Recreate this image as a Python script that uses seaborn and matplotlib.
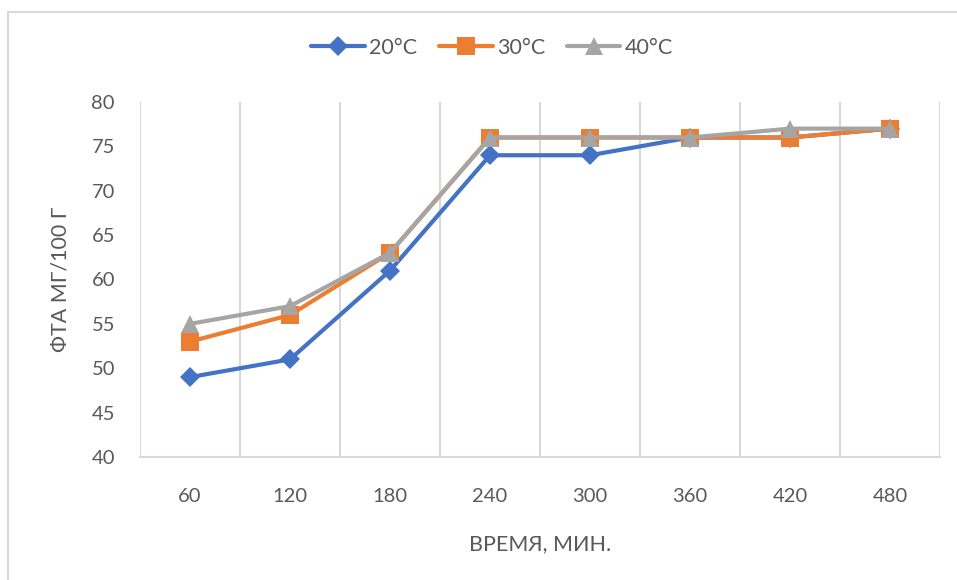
import matplotlib
matplotlib.use("Agg")
import matplotlib.pyplot as plt
from matplotlib.lines import Line2D
import numpy as np
import pandas as pd
import seaborn as sns

# Reaction time (min) and titratable acidity at three temperatures
times = ["60", "120", "180", "240", "300", "360", "420", "480"]
acidity_20 = [49, 51, 61, 74, 74, 76, 76, 77]
acidity_30 = [53, 56, 63, 76, 76, 76, 76, 77]
acidity_40 = [55, 57, 63, 76, 76, 76, 77, 77]
series_names = ["20°C", "30°C", "40°C"]
y_ticks = [40, 45, 50, 55, 60, 65, 70, 75, 80]

colors = ["#4472C4", "#ED7D31", "#A5A5A5"]
markers = ["D", "s", "^"]
msizes = [10.5, 12.5, 12.5]
text_color = "#595959"
grid_color = "#D9D9D9"

sns.set_theme(style="white")
plt.rcParams["font.family"] = ["Lato", "DejaVu Sans"]

df = pd.DataFrame({
    "time": times * 3,
    "value": acidity_20 + acidity_30 + acidity_40,
    "temp": sum([[n] * len(times) for n in series_names], []),
})

fig = plt.figure(figsize=(9.57, 5.80), dpi=100)
ax = fig.add_axes([140 / 957, 1 - 457 / 580, 800 / 957, 355 / 580])

for name, c, m, ms in zip(series_names, colors, markers, msizes):
    sns.lineplot(data=df[df["temp"] == name], x="time", y="value",
                 color=c, marker=m, markersize=ms, markeredgewidth=0,
                 linewidth=3, ax=ax, legend=False, zorder=3)

ax.set_xlim(-0.5, len(times) - 0.5)
ax.set_ylim(40, 80)
ax.set_yticks(y_ticks)
ax.set_yticklabels([str(v) for v in y_ticks])
ax.set_xticks(range(len(times)))
ax.set_xticklabels(times)

# vertical gridlines sit between categories
ax.set_xticks(np.arange(-0.5, len(times) + 0.5, 1.0), minor=True)
ax.grid(False)
ax.grid(which="minor", axis="x", color=grid_color, linewidth=1.5, zorder=0)
for s in ["top", "right", "left"]:
    ax.spines[s].set_visible(False)
ax.spines["bottom"].set_color(grid_color)
ax.spines["bottom"].set_linewidth(1.5)

ax.tick_params(axis="both", which="both", length=0)
ax.tick_params(axis="y", labelsize=14.5, labelcolor=text_color, pad=18)
ax.tick_params(axis="x", labelsize=14.5, labelcolor=text_color, pad=22)

ax.set_xlabel("ВРЕМЯ, МИН.", fontsize=15.5, color=text_color, labelpad=21)
ax.set_ylabel("ФТА МГ/100 Г", fontsize=15.5, color=text_color, labelpad=15)

handles = [Line2D([0], [0], color=c, marker=m, markersize=ms, linewidth=3,
                  markeredgewidth=0)
           for c, m, ms in zip(colors, markers, msizes)]
fig.legend(handles, series_names, loc="center", ncol=3, frameon=False,
           bbox_to_anchor=(492 / 957, 1 - 48 / 580), fontsize=15.5,
           labelcolor=text_color, handlelength=2.5, handletextpad=0.2,
           columnspacing=1.0)

# outer chart frame
fig.add_artist(Line2D([8 / 957, 8 / 957], [0, 1 - 12 / 580],
                      transform=fig.transFigure, color=grid_color, linewidth=1.5))
fig.add_artist(Line2D([8 / 957, 1], [1 - 12 / 580, 1 - 12 / 580],
                      transform=fig.transFigure, color=grid_color, linewidth=1.5))

fig.savefig("out.png", dpi=100)
